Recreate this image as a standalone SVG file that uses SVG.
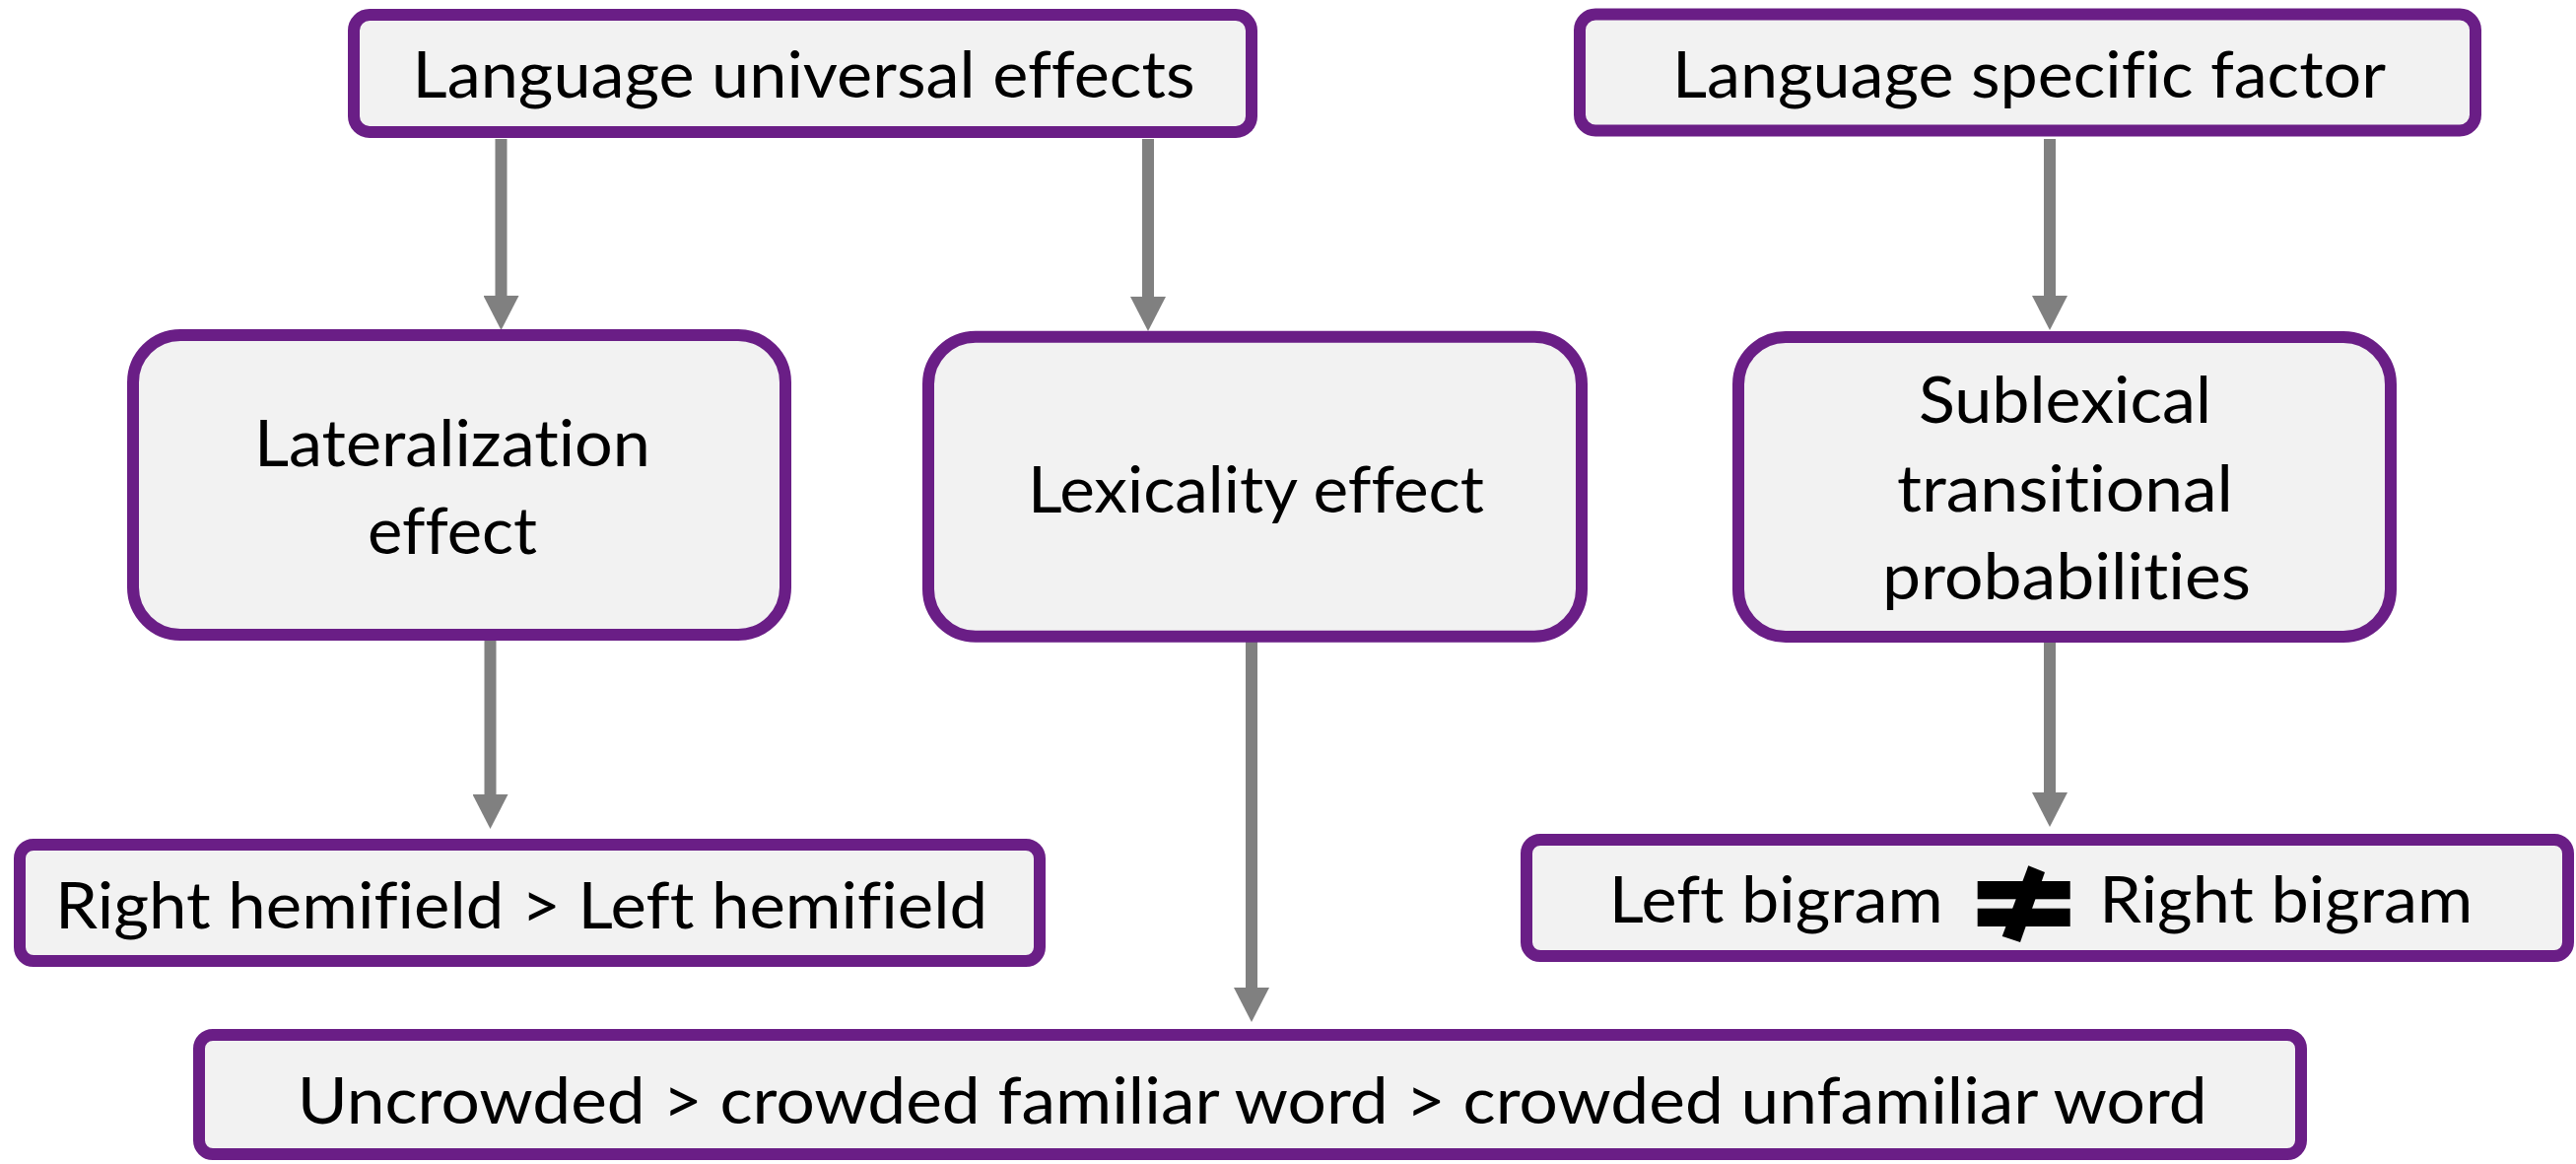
<svg xmlns="http://www.w3.org/2000/svg" width="2614" height="1181" viewBox="0 0 2614 1181">
  <style>
    .box { fill: #F2F2F2; stroke: #6A1E86; stroke-width: 12; }
    .lbl { font-family: Lato, "Open Sans", "Liberation Sans", sans-serif; font-size: 66px; fill: #000000; text-anchor: middle; font-variant-ligatures: none; font-feature-settings: "liga" 0, "clig" 0; }
    .arrow { stroke: #808080; stroke-width: 12; fill: none; marker-end: url(#head); }
    .sym { fill: #000000; }
  </style>
  <defs>
    <marker id="head" viewBox="0 0 35 36" refX="0" refY="18" markerWidth="35" markerHeight="36" markerUnits="userSpaceOnUse" orient="auto">
      <path d="M0,0 L35,18 L0,36 Z" fill="#808080"/>
    </marker>
  </defs>

  <rect width="2614" height="1181" fill="#FFFFFF"/>

  <!-- connectors: shafts end at the arrowhead base, the marker supplies the tip -->
  <g id="connectors">
    <path class="arrow" d="M508.5,141 L508.5,300"/>
    <path class="arrow" d="M1165,141 L1165,301"/>
    <path class="arrow" d="M2080,141 L2080,300"/>
    <path class="arrow" d="M497.5,646 L497.5,806"/>
    <path class="arrow" d="M1270,646 L1270,1002"/>
    <path class="arrow" d="M2080,644 L2080,804"/>
  </g>

  <g id="universal">
    <rect class="box" x="359" y="15" width="911" height="119" rx="16"/>
    <text class="lbl" x="815.6" y="99" textLength="794" lengthAdjust="spacingAndGlyphs">Language universal effects</text>
  </g>

  <g id="specific">
    <rect class="box" x="1603" y="14.5" width="909" height="118" rx="16"/>
    <text class="lbl" x="2059" y="99" textLength="724" lengthAdjust="spacingAndGlyphs">Language specific factor</text>
  </g>

  <g id="lateralization">
    <rect class="box" x="135" y="340" width="662" height="304" rx="48"/>
    <text class="lbl" x="459" y="472.7" textLength="402" lengthAdjust="spacingAndGlyphs">Lateralization</text>
    <text class="lbl" x="459" y="561.7" textLength="172" lengthAdjust="spacingAndGlyphs">effect</text>
  </g>

  <g id="lexicality">
    <rect class="box" x="942" y="341.7" width="663" height="304" rx="48"/>
    <text class="lbl" x="1274.5" y="520" textLength="463" lengthAdjust="spacingAndGlyphs">Lexicality effect</text>
  </g>

  <g id="sublexical">
    <rect class="box" x="1764" y="342" width="662" height="304" rx="48"/>
    <text class="lbl" x="2095.5" y="429" textLength="297" lengthAdjust="spacingAndGlyphs">Sublexical</text>
    <text class="lbl" x="2095.5" y="518.6" textLength="341" lengthAdjust="spacingAndGlyphs">transitional</text>
    <text class="lbl" x="2097" y="608" textLength="374" lengthAdjust="spacingAndGlyphs">probabilities</text>
  </g>

  <g id="hemifield">
    <rect class="box" x="20" y="857" width="1035" height="118" rx="14"/>
    <text class="lbl" x="529" y="941.7" textLength="946" lengthAdjust="spacingAndGlyphs">Right hemifield &gt; Left hemifield</text>
  </g>

  <g id="bigram">
    <rect class="box" x="1549" y="852" width="1057" height="118" rx="14"/>
    <text class="lbl" x="1802.3" y="935.8" textLength="339" lengthAdjust="spacingAndGlyphs">Left bigram</text>
    <!-- not-equal sign drawn as a shape: two bars and a slanted stroke -->
    <g class="sym">
      <rect x="2006.7" y="894" width="94" height="18.3"/>
      <rect x="2006.7" y="921.7" width="94" height="18.3"/>
      <polygon points="2058.3,878.3 2075,885 2050,956 2031.7,950"/>
    </g>
    <text class="lbl" x="2319.8" y="935.8" textLength="379" lengthAdjust="spacingAndGlyphs">Right bigram</text>
  </g>

  <g id="crowding">
    <rect class="box" x="202" y="1050" width="2133" height="121" rx="14"/>
    <text class="lbl" x="1270.7" y="1140" textLength="1938" lengthAdjust="spacingAndGlyphs">Uncrowded &gt; crowded familiar word &gt; crowded unfamiliar word</text>
  </g>
</svg>
